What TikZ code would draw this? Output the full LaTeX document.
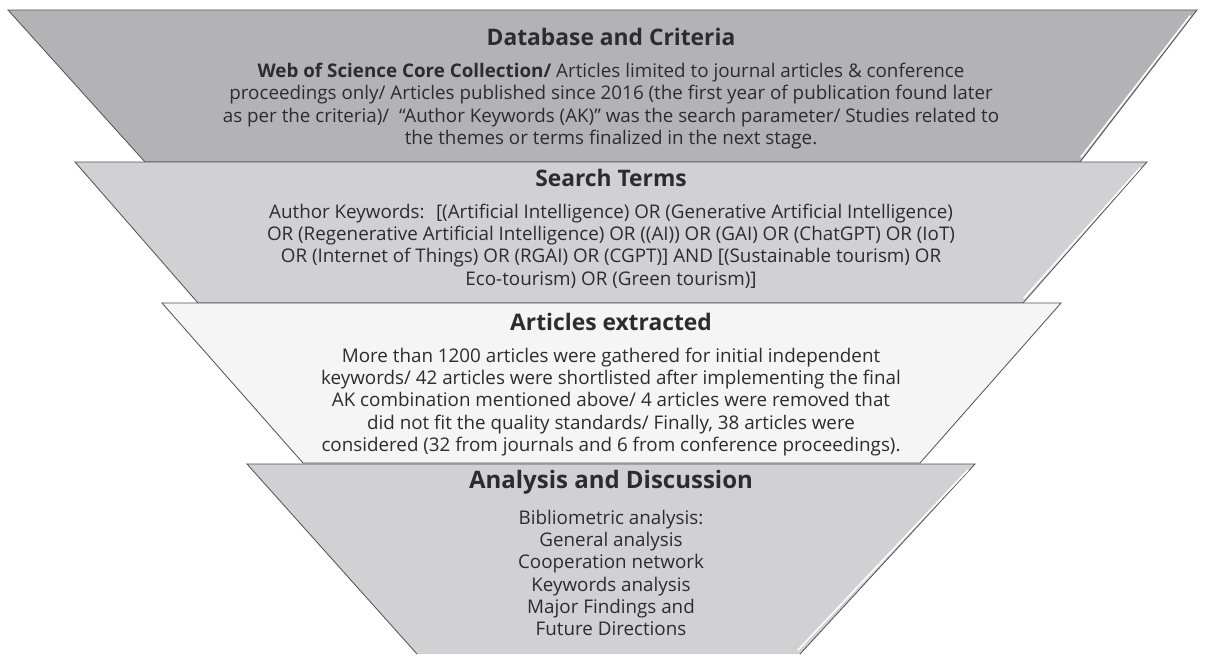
\documentclass[tikz,border=0pt]{standalone}
\usepackage{fontspec}
\setmainfont{Open Sans}
\definecolor{fillA}{HTML}{B3B3B5}
\definecolor{fillB}{HTML}{D1D1D3}
\definecolor{fillC}{HTML}{F5F5F5}
\definecolor{edgeC}{HTML}{505050}
\definecolor{txtC}{HTML}{2C2C2C}
\tikzset{
  stage/.style={draw=edgeC, line width=0.8pt, line join=miter},
  shine/.style={white, line width=1.6pt, line cap=round},
  ttl/.style={font=\fontsize{22.8}{26}\selectfont\bfseries, text=txtC, inner sep=0pt},
  body/.style={font=\fontsize{18.8}{22.2}\selectfont, text=txtC, align=center, inner sep=0pt},
}
\begin{document}
\begin{tikzpicture}[x=1pt,y=-1pt]
\useasboundingbox (0,0) rectangle (1206,654);
% stage 1
\fill[fillA] (8,10) -- (1197,10) -- (1080,162) -- (145,162) -- cycle;
\draw[stage] (8,10) -- (1197,10) -- (1080,162) -- (145,162) -- cycle;
\draw[shine] (1190,16) -- (1081,157);
% stage 2
\fill[fillB] (75,162) -- (1147,162) -- (1023,303) -- (198,303) -- cycle;
\draw[stage] (75,162) -- (1147,162) -- (1023,303) -- (198,303) -- cycle;
\draw[shine] (1140,168) -- (1024,298);
% stage 3
\fill[fillC] (162,303) -- (1061,303) -- (920,463) -- (303,463) -- cycle;
\draw[stage] (162,303) -- (1061,303) -- (920,463) -- (303,463) -- cycle;
% stage 4
\fill[fillB] (247,464) -- (975,464) -- (800,654) -- (417,654) -- cycle;
\draw[stage] (417,654) -- (247,464) -- (975,464) -- (800,654);
\draw[shine] (968,470) -- (798,650);
% texts
\node[ttl] (t1) at (611,37) {Database and Criteria};
\node[body] (b1) at (611,106) {\textbf{Web of Science Core Collection/} Articles limited to journal articles \& conference\\
proceedings only/ Articles published since 2016 (the first year of publication found later\\
as per the criteria)/ \ “Author Keywords (AK)” was the search parameter/ Studies related to\\
the themes or terms finalized in the next stage.};
\node[ttl] (t2) at (611,178) {Search Terms};
\node[body] (b2) at (611,246) {Author Keywords: \ [(Artificial Intelligence) OR (Generative Artificial Intelligence)\\
OR (Regenerative Artificial Intelligence) OR ((AI)) OR (GAI) OR (ChatGPT) OR (IoT)\\
OR (Internet of Things) OR (RGAI) OR (CGPT)] AND [(Sustainable tourism) OR\\
Eco-tourism) OR (Green tourism)]};
\node[ttl] (t3) at (611,322) {Articles extracted};
\node[body] (b3) at (611,402) {More than 1200 articles were gathered for initial independent\\
keywords/ 42 articles were shortlisted after implementing the final\\
AK combination mentioned above/ 4 articles were removed that\\
did not fit the quality standards/ Finally, 38 articles were\\
considered (32 from journals and 6 from conference proceedings).};
\node[ttl, font=\fontsize{24}{28}\selectfont\bfseries] (t4) at (611,482) {Analysis and Discussion};
\node[body] (b4) at (611,573) {Bibliometric analysis:\\
General analysis\\
Cooperation network\\
Keywords analysis\\
Major Findings and\\
Future Directions};
\end{tikzpicture}
\end{document}
